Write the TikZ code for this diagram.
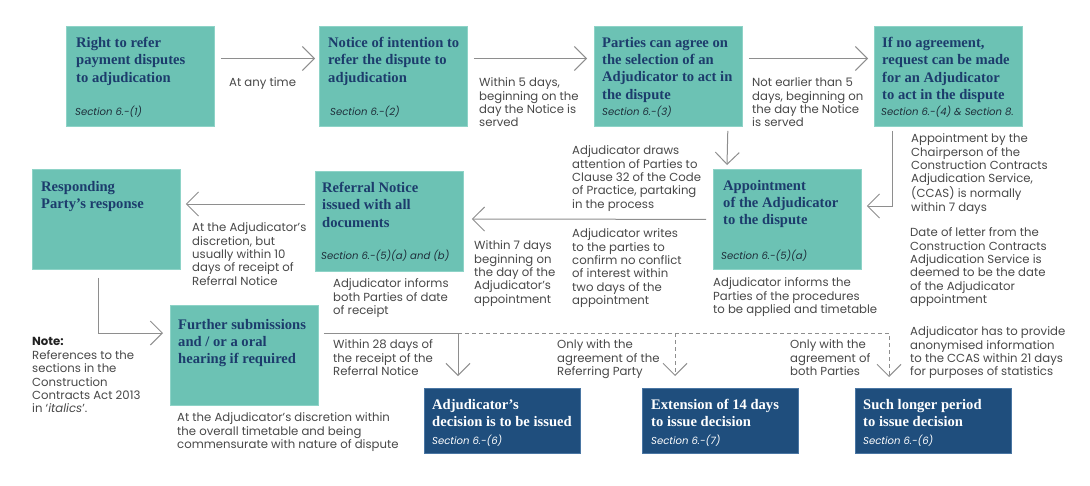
\documentclass[tikz,border=0pt]{standalone}
\usepackage{fontspec}
\setmainfont{Poppins}
\newfontfamily\titlefont{Liberation Serif}
\usetikzlibrary{arrows.meta,calc}
\definecolor{boxteal}{HTML}{6CC2B4}
\definecolor{tealedge}{HTML}{8ED3C7}
\definecolor{boxblue}{HTML}{1F4E7D}
\definecolor{blueedge}{HTML}{4A76A3}
\definecolor{titlenavy}{HTML}{1C3C6C}
\definecolor{sectxt}{HTML}{1E2E3A}
\definecolor{lbltxt}{HTML}{484848}
\definecolor{notetxt}{HTML}{222222}
\definecolor{linegray}{HTML}{8E8E8E}
\tikzset{
  tbox/.style={draw=tealedge, fill=boxteal, line width=0.8pt, minimum width=148pt, minimum height=100pt, anchor=north west, inner sep=0pt},
  bbox/.style={draw=blueedge, fill=boxblue, line width=0.8pt, minimum width=156pt, minimum height=65pt, anchor=north west, inner sep=0pt},
  ttl/.style={anchor=north west, inner sep=0pt, align=left, font=\titlefont\bfseries\fontsize{14.6}{17.3}\selectfont, text=titlenavy},
  wttl/.style={ttl, text=white},
  sec/.style={anchor=west, inner sep=0pt, font=\itshape\fontsize{10.1}{12}\selectfont, text=sectxt},
  wsec/.style={sec, text=white},
  lbl/.style={anchor=north west, inner sep=0pt, align=left, font=\fontsize{11.7}{13.4}\selectfont, text=lbltxt},
  arr/.style={draw=linegray, line width=1pt, -{Straight Barb[length=12pt,width=24pt,line width=1pt]}},
  darr/.style={arr, dash pattern=on 4pt off 3pt},
}
\begin{document}
\begin{tikzpicture}[x=1pt,y=1pt]
\useasboundingbox (0,0) rectangle (1090,-485);
% boxes
\node[tbox] (b1) at (66,-26) {};
\node[tbox] (b2) at (319,-26) {};
\node[tbox] (b3) at (594,-26) {};
\node[tbox] (b4) at (874,-26) {};
\node[tbox] (b5) at (32,-169) {};
\node[tbox] (b6) at (315,-171) {};
\node[tbox] (b7) at (713,-169) {};
\node[tbox] (b8) at (170,-305) {};
\node[bbox] (b9) at (424,-388) {};
\node[bbox] (b10) at (642,-388) {};
\node[bbox] (b11) at (855,-388) {};
% titles
\node[ttl] (t1) at (76,-37) {Right to refer\\payment disputes\\to adjudication};
\node[sec] (s1) at (75,-112) {Section 6.-(1)};
\node[ttl] (t2) at (328,-37) {Notice of intention to\\refer the dispute to\\adjudication};
\node[sec] (s2) at (330,-112) {Section 6.-(2)};
\node[ttl] (t3) at (602,-37) {Parties can agree on\\the selection of an\\Adjudicator to act in\\the dispute};
\node[sec] (s3) at (602,-112) {Section 6.-(3)};
\node[ttl] (t4) at (882,-37) {If no agreement,\\request can be made\\for an Adjudicator\\to act in the dispute};
\node[sec] (s4) at (881,-112) {Section 6.-(4) \& Section 8.};
\node[ttl] (t5) at (41,-181) {Responding\\Party’s response};
\node[ttl] (t6) at (322,-182) {Referral Notice\\issued with all\\documents};
\node[sec] (s6) at (321,-256) {Section 6.-(5)(a) and (b)};
\node[ttl] (t7) at (723,-180) {Appointment\\of the Adjudicator\\to the dispute};
\node[sec] (s7) at (721,-256) {Section 6.-(5)(a)};
\node[ttl] (t8) at (178,-319) {Further submissions\\and / or a oral\\hearing if required};
\node[wttl] (t9) at (432,-399) {Adjudicator’s\\decision is to be issued};
\node[wsec] (s9) at (432,-441) {Section 6.-(6)};
\node[wttl] (t10) at (651,-399) {Extension of 14 days\\to issue decision};
\node[wsec] (s10) at (651,-441) {Section 6.-(7)};
\node[wttl] (t11) at (863,-399) {Such longer period\\to issue decision};
\node[wsec] (s11) at (863,-441) {Section 6.-(6)};
% labels
\node[lbl] (l1) at (229,-77) {At any time};
\node[lbl] (l2) at (479,-77.5) {Within 5 days,\\beginning on the\\day the Notice is\\served};
\node[lbl] (l3) at (752,-77.5) {Not earlier than 5\\days, beginning on\\the day the Notice\\is served};
\node[lbl] (l4) at (911,-133.5) {Appointment by the\\Chairperson of the\\Construction Contracts\\Adjudication Service,\\(CCAS) is normally\\within 7 days};
\node[lbl] (l5) at (572,-145.5) {Adjudicator draws\\attention of Parties to\\Clause 32 of the Code\\of Practice, partaking\\in the process};
\node[lbl] (l6) at (572,-228.5) {Adjudicator writes\\to the parties to\\confirm no conflict\\of interest within\\two days of the\\appointment};
\node[lbl] (l7) at (474,-240.5) {Within 7 days\\beginning on\\the day of the\\Adjudicator’s\\appointment};
\node[lbl] (l8) at (192,-222.5) {At the Adjudicator’s\\discretion, but\\usually within 10\\days of receipt of\\Referral Notice};
\node[lbl] (l9) at (333,-278.5) {Adjudicator informs\\both Parties of date\\of receipt};
\node[lbl] (l10) at (713,-277.5) {Adjudicator informs the\\Parties of the procedures\\to be applied and timetable};
\node[lbl] (l11) at (910,-227.5) {Date of letter from the\\Construction Contracts\\Adjudication Service is\\deemed to be the date\\of the Adjudicator\\appointment};
\node[lbl] (l12) at (910,-326.5) {Adjudicator has to provide\\anonymised information\\to the CCAS within 21 days\\for purposes of statistics};
\node[lbl] (l13) at (333,-339.5) {Within 28 days of\\the receipt of the\\Referral Notice};
\node[lbl] (l14) at (557,-339.5) {Only with the\\agreement of the\\Referring Party};
\node[lbl] (l15) at (790,-339.5) {Only with the\\agreement of\\both Parties};
\node[lbl] (l16) at (177,-412.5) {At the Adjudicator’s discretion within\\the overall timetable and being\\commensurate with nature of dispute};
\node[lbl] (note) at (32,-337.5) {\textcolor{notetxt}{\textbf{Note:}}\\References to the\\sections in the\\Construction\\Contracts Act 2013\\in ‘\textit{italics}’.};
% connectors
\draw[arr] ($(b1.north east)+(6,-32.5)$) -- ($(b2.north west)+(-4,-32.5)$);
\draw[arr] ($(b2.north east)+(6,-32.5)$) -- ($(b3.north west)+(-7,-32.5)$);
\draw[arr] ($(b3.north east)+(6,-32.5)$) -- ($(b4.north west)+(-6,-32.5)$);
\draw[arr] ($(b3.south east)+(-15,-4)$) -- ($(b7.north west)+(14,4)$);
\draw[arr] ($(b4.south west)+(18,-4)$) |- ($(b7.north east)+(5,-37)$);
\draw[arr] ($(b7.west)+(-7,0)$) -- ($(b6.north east)+(8,-48)$);
\draw[arr] ($(b6.north west)+(-10,-33)$) -- ($(b5.north east)+(5,-35)$);
\draw[arr] ($(b5.south west)+(66,-8)$) |- ($(b8.north west)+(-7,-28)$);
\draw[arr] ($(b8.north east)+(5,-28)$) -| ($(b9.north west)+(34,12)$);
\coordinate (j1) at ($(b9.north west)+(34,55)$);
\coordinate (j2) at ($(b10.north west)+(33,55)$);
\draw[darr] (j1) -| ($(b11.north west)+(34,11)$);
\draw[darr] (j2) -- ($(b10.north west)+(33,12)$);
\end{tikzpicture}
\end{document}
